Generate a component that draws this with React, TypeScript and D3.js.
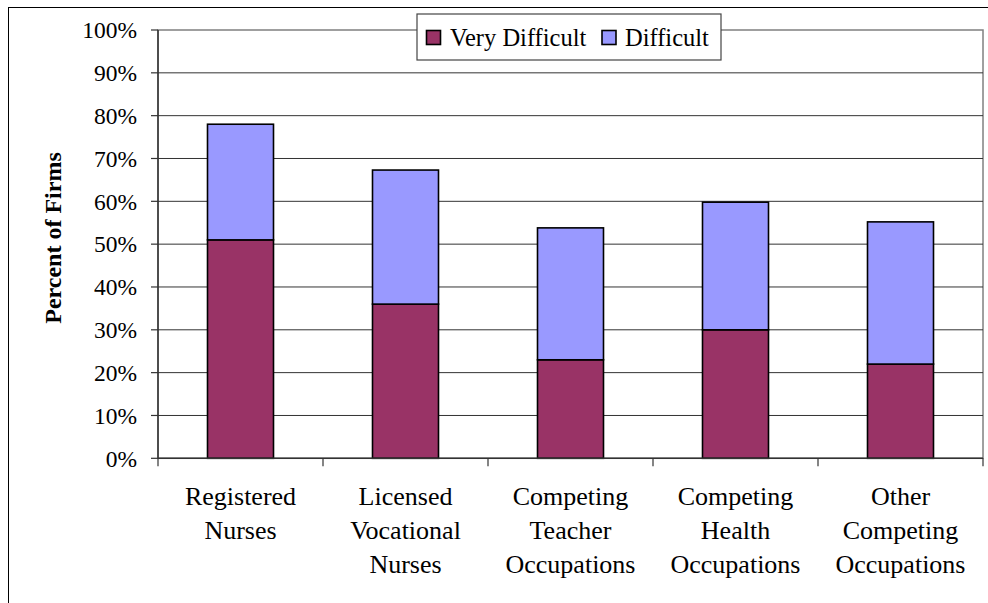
import React from "react";
import * as d3 from "d3";

const categories: string[][] = [
  ["Registered", "Nurses"],
  ["Licensed", "Vocational", "Nurses"],
  ["Competing", "Teacher", "Occupations"],
  ["Competing", "Health", "Occupations"],
  ["Other", "Competing", "Occupations"],
];
const veryDifficult = [51, 36, 23, 30, 22];
const difficult = [27, 31.3, 30.8, 29.8, 33.2];
const yTicks = [0, 10, 20, 30, 40, 50, 60, 70, 80, 90, 100];
const seriesNames = ["Very Difficult", "Difficult"];
const seriesColors = ["#993366", "#9999FF"];

const W = 988;
const H = 603;
const plotLeft = 158;
const plotRight = 983;
const plotTop = 30;
const plotBottom = 458.3;
const FONT = "'Liberation Serif', 'Times New Roman', serif";

export default function App() {
  const keys = categories.map((_, i) => String(i));
  const x = d3
    .scaleBand<string>()
    .domain(keys)
    .range([plotLeft, plotRight])
    .paddingInner(0.6)
    .paddingOuter(0.3);
  const y = d3.scaleLinear().domain([0, 100]).range([plotBottom, plotTop]);

  const rows = keys.map((k, i) => ({ key: k, vd: veryDifficult[i], d: difficult[i] }));
  const stack = d3.stack<any>().keys(["vd", "d"]);
  const stacked = stack(rows);

  const step = x.step();
  const boundaries = d3.range(keys.length + 1).map((i) => plotLeft + i * step);

  return (
    <svg
      width={W}
      height={H}
      style={{ position: "absolute", left: 0, top: 0, background: "#fff" }}
      fontFamily={FONT}
    >
      <rect x={0} y={0} width={W} height={H} fill="#fff" />
      {/* outer chart border */}
      <rect x={8.5} y={7.5} width={1000} height={700} fill="none" stroke="#000" strokeWidth={1} />

      {/* plot area border (gray) */}
      <rect
        x={plotLeft}
        y={plotTop}
        width={plotRight - plotLeft}
        height={plotBottom - plotTop}
        fill="none"
        stroke="#808080"
        strokeWidth={1.5}
      />

      {/* gridlines */}
      {yTicks
        .filter((t) => t > 0 && t < 100)
        .map((t) => (
          <line
            key={"g" + t}
            x1={plotLeft}
            x2={plotRight}
            y1={y(t)}
            y2={y(t)}
            stroke="#333"
            strokeWidth={1}
          />
        ))}

      {/* bars */}
      {stacked.map((layer, si) =>
        layer.map((seg, i) => (
          <rect
            key={si + "-" + i}
            x={x(keys[i])!}
            y={y(seg[1])}
            width={x.bandwidth()}
            height={y(seg[0]) - y(seg[1])}
            fill={seriesColors[si]}
            stroke="#000"
            strokeWidth={1.6}
          />
        ))
      )}

      {/* y axis */}
      <line x1={plotLeft} x2={plotLeft} y1={plotTop} y2={plotBottom} stroke="#333" strokeWidth={1.5} />
      {yTicks.map((t) => (
        <g key={"t" + t}>
          <line x1={plotLeft - 7} x2={plotLeft} y1={y(t)} y2={y(t)} stroke="#333" strokeWidth={1.2} />
          <text
            x={137}
            y={y(t)}
            dy="0.35em"
            textAnchor="end"
            fontSize={23.5}
            fill="#000"
          >
            {t + "%"}
          </text>
        </g>
      ))}

      {/* x axis */}
      <line x1={plotLeft} x2={plotRight} y1={plotBottom} y2={plotBottom} stroke="#333" strokeWidth={1.5} />
      {boundaries.map((bx, i) => (
        <line key={"xt" + i} x1={bx} x2={bx} y1={plotBottom} y2={plotBottom + 8} stroke="#333" strokeWidth={1.2} />
      ))}
      {categories.map((lines, i) => (
        <text
          key={"c" + i}
          x={x(keys[i])! + x.bandwidth() / 2}
          y={505}
          textAnchor="middle"
          fontSize={26}
          fill="#000"
        >
          {lines.map((l, j) => (
            <tspan key={j} x={x(keys[i])! + x.bandwidth() / 2} dy={j === 0 ? 0 : 33.8}>
              {l}
            </tspan>
          ))}
        </text>
      ))}

      {/* y axis title */}
      <text
        transform={`translate(61, 238) rotate(-90)`}
        textAnchor="middle"
        fontSize={24}
        fontWeight="bold"
        fill="#000"
      >
        Percent of Firms
      </text>

      {/* legend */}
      <rect x={417} y={14} width={304} height={46} fill="#fff" stroke="#444" strokeWidth={1.2} />
      <rect x={426.5} y={30.5} width={14} height={14} fill={seriesColors[0]} stroke="#000" strokeWidth={1.6} />
      <text x={450} y={45.5} fontSize={24.5} fill="#000">
        {seriesNames[0]}
      </text>
      <rect x={602} y={30.5} width={14} height={14} fill={seriesColors[1]} stroke="#000" strokeWidth={1.6} />
      <text x={625} y={45.5} fontSize={24.5} fill="#000">
        {seriesNames[1]}
      </text>
    </svg>
  );
}
